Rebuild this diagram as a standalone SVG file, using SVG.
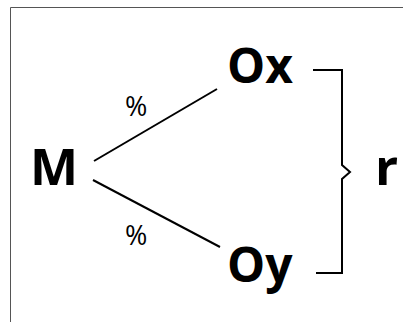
<svg xmlns="http://www.w3.org/2000/svg" width="403" height="322" viewBox="0 0 403 322">
<style>
.t{font-family:"Open Sans","Noto Sans",sans-serif;font-weight:bold;fill:#000}
.big{font-size:51px}
.mid{font-size:48px}
.pct{font-size:27px;font-weight:normal}
.ln{stroke:#000;stroke-width:2;fill:none}
</style>
<rect x="0" y="0" width="403" height="322" fill="#fff"/>
<path d="M10.5 322 V7.5 H403" stroke="#555" stroke-width="1" fill="none"/>
<g id="connectors">
<line class="ln" x1="94" y1="161" x2="217" y2="89"/>
<line class="ln" x1="93" y1="180" x2="220" y2="247"/>
<path class="ln" d="M313 70 H342 V165 L350 172 L342 179 V273 H316"/>
</g>
<g id="node-M"><text class="t big" x="30" y="185">M</text></g>
<g id="node-Ox"><text class="t mid" x="227" y="83">Ox</text></g>
<g id="node-Oy"><text class="t mid" x="227" y="282">Oy</text></g>
<g id="node-r"><text class="t big" x="375" y="185">r</text></g>
<g id="label-1"><text class="t pct" x="125" y="116">%</text></g>
<g id="label-2"><text class="t pct" x="125" y="245">%</text></g>
</svg>
